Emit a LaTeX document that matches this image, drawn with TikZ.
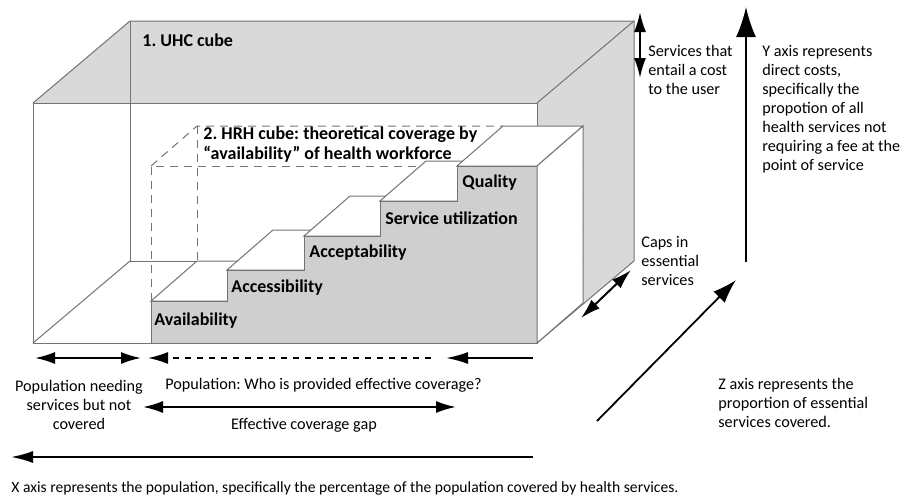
\documentclass[tikz,border=0pt]{standalone}
\usepackage{fontspec}
\setmainfont{Carlito}
\usepackage{xcolor}
\usetikzlibrary{arrows.meta}
\frenchspacing

\definecolor{facegray}{gray}{0.85}
\definecolor{stepgray}{gray}{0.81}
\definecolor{edgegray}{gray}{0.45}

\begin{document}
\begin{tikzpicture}[x=0.5pt,y=-0.5pt,
  edge/.style={draw=edgegray, line width=0.5pt},
  dashedge/.style={draw=edgegray, line width=0.5pt, dash pattern=on 4pt off 3pt},
  tread/.style={edge, fill=white},
  steplab/.style={font=\bfseries\fontsize{9}{10}\selectfont, inner sep=0pt, anchor=west},
  note/.style={font=\fontsize{8.1}{9.5}\selectfont, inner sep=0pt, align=left, anchor=west},
  arr/.style={line width=1pt, -{Latex[length=11pt,width=6pt]}},
  dblarr/.style={line width=1pt, {Latex[length=10pt,width=6pt]}-{Latex[length=10pt,width=6pt]}},
  bigarr/.style={line width=0.9pt, -{Latex[length=15pt,width=10pt]}}]
  \useasboundingbox (0,0) rectangle (906,498);

  % UHC cube: shaded top and right faces
  \fill[facegray] (33,103) -- (537,103) -- (634,21) -- (130,21) -- cycle;
  \fill[facegray] (537,103) -- (634,21) -- (634,261) -- (537,343) -- cycle;
  \draw[edge] (33,103) rectangle (537,343);
  \draw[edge] (33,103) -- (130,21) -- (634,21) -- (537,103);
  \draw[edge] (130,21) -- (130,261) -- (197,261);
  \draw[edge] (634,21) -- (634,261) -- (537,343);
  \draw[edge] (33,343) -- (130,261);

  % HRH cube, dashed where no step fills it
  \draw[dashedge] (151,301) -- (151,166) -- (457,166);
  \draw[dashedge] (151,166) -- (197,126) -- (503,126);
  \draw[dashedge] (197,126) -- (197,261);

  % steps: treads first, then the front and the side
  \foreach \x/\y in {151/301,227/270,304/236,380/201,457/166}
    \filldraw[tread] (\x,\y) -- (537,\y) -- ++(46,-40) -- (\x+46,\y-40) -- cycle;
  \filldraw[edge, fill=stepgray] (151,343) -- (151,301) -- (227,301) -- (227,270)
    -- (304,270) -- (304,236) -- (380,236) -- (380,201) -- (457,201) -- (457,166)
    -- (537,166) -- (537,343) -- cycle;
  \filldraw[tread] (537,166) -- (583,126) -- (583,303) -- (537,343) -- cycle;

  \foreach \x/\y/\lab [count=\i] in {154/321/Availability, 231/288/Accessibility,
      309/253/Acceptability, 385/218/Service utilization, 462/183/Quality}
    \node[steplab] (step\i) at (\x,\y) {\lab};

  \node[steplab] (uhc) at (142,40) {1. UHC cube};
  \node[steplab, align=left] (hrh) at (203,145)
    {2. HRH cube: theoretical coverage by\\“availability” of health workforce};

  % right hand side
  \coordinate (cost top) at (640,12);
  \coordinate (cost bot) at (640,78);
  \draw[dblarr] (cost top) -- (cost bot);
  \node[note] (cost) at (648,70) {Services that\\entail a cost\\to the user};

  \coordinate (y0) at (746,262);
  \coordinate (y1) at (746,7);
  \draw[bigarr] (y0) -- (y1);
  \node[note] (ytext) at (762,109) {Y axis represents\\direct costs,\\specifically the\\propotion of all\\health services not\\requiring a fee at the\\point of service};

  \coordinate (gap0) at (581,318);
  \coordinate (gap1) at (631,270);
  \draw[dblarr] (gap0) -- (gap1);
  \node[note] (gaps) at (641,261) {Caps in\\essential\\services};

  \coordinate (z0) at (597,421);
  \coordinate (z1) at (736,280);
  \draw[line width=0.9pt, -{Latex[length=12pt,width=8pt]}] (z0) -- (z1);
  \node[note] (ztext) at (718,403) {Z axis represents the\\proportion of essential\\services covered.};

  % bottom: population arrows
  \coordinate (nc0) at (35,358);
  \coordinate (nc1) at (141,358);
  \draw[dblarr] (nc0) -- (nc1);
  \coordinate (pop0) at (431,358);
  \coordinate (pop1) at (148,358);
  \draw[line width=0.8pt, dash pattern=on 3pt off 3pt, -{Latex[length=10pt,width=6pt]}] (pop0) -- (pop1);
  \coordinate (cov0) at (533,358);
  \coordinate (cov1) at (446,358);
  \draw[arr] (cov0) -- (cov1);

  \node[note, align=center, anchor=center] (notcov) at (79,405)
    {Population needing\\services but not\\covered};
  \node[note] (who) at (165,385) {Population: Who is provided effective coverage?};

  \coordinate (ecg0) at (143,407);
  \coordinate (ecg1) at (456,407);
  \draw[dblarr] (ecg0) -- (ecg1);
  \node[note, anchor=center] (ecg) at (304,425) {Effective coverage gap};

  \coordinate (x0) at (533,457);
  \coordinate (x1) at (11,457);
  \draw[arr] (x0) -- (x1);
  \node[note, font=\fontsize{7.8}{9}\selectfont] (xtext) at (11,488)
    {X axis represents the population, specifically the percentage of the population covered by health services.};
\end{tikzpicture}
\end{document}
